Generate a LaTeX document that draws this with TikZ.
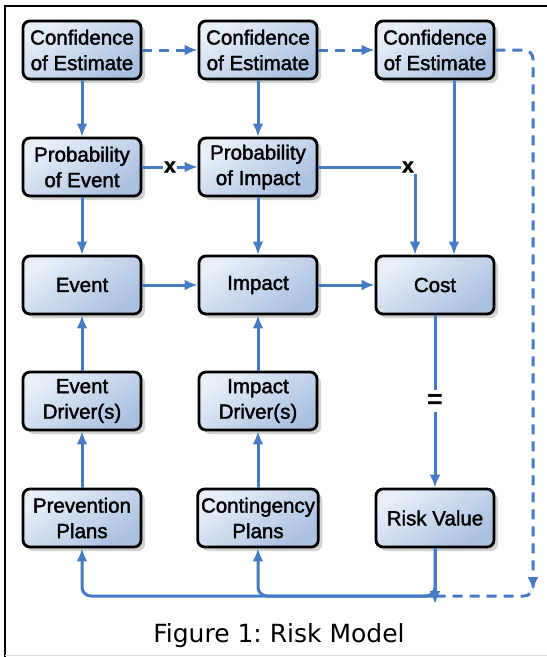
\documentclass[tikz,border=0pt]{standalone}
\usepackage{fontspec}
\usepackage{xcolor}
\usetikzlibrary{shadows,arrows.meta}
\setmainfont{Liberation Sans}
\newfontfamily\boxfont[FakeBold=1.8]{Liberation Sans}
\newfontfamily\capfont{DejaVu Sans}

\definecolor{flowblue}{RGB}{70,122,198}
\definecolor{boxlight}{RGB}{232,239,249}
\definecolor{boxdark}{RGB}{170,192,224}

\begin{document}
\begin{tikzpicture}[x=1pt, y=-1pt,
  riskbox/.style={draw=black, line width=2.8pt, rounded corners=7pt,
    minimum width=118pt, minimum height=58pt, align=center,
    top color=boxlight, bottom color=boxdark, shading angle=35,
    font=\boxfont\fontsize{20.5}{25.5}\selectfont,
    drop shadow={shadow xshift=4pt, shadow yshift=-4pt, opacity=0.18, fill=black}},
  flow/.style={draw=flowblue, line width=3pt, -{Latex[length=13pt,width=11pt]}},
  plainflow/.style={draw=flowblue, line width=3pt},
  opsign/.style={font=\boxfont\bfseries\fontsize{21}{22}\selectfont, inner sep=1pt}]
  \useasboundingbox (0,0) rectangle (547,657);

  % Frame round the figure
  \draw[line width=2pt] (5,657) -- (5,6) -- (547,6);
  \draw[gray!25, line width=1pt] (5,655) -- (547,655);

  % Boxes
  \node[riskbox] (conf1) at (82,50) {Confidence\\of Estimate};
  \node[riskbox] (conf2) at (258,50) {Confidence\\of Estimate};
  \node[riskbox] (conf3) at (435,50) {Confidence\\of Estimate};
  \node[riskbox] (probev) at (82,167) {Probability\\of Event};
  \node[riskbox] (probim) at (258,167) {Probability\\of Impact};
  \node[riskbox] (event) at (82,285) {Event};
  \node[riskbox] (impact) at (258,285) {Impact};
  \node[riskbox] (cost) at (435,285) {Cost};
  \node[riskbox] (evdrv) at (82,401) {Event\\Driver(s)};
  \node[riskbox] (imdrv) at (258,401) {Impact\\Driver(s)};
  \node[riskbox] (prev) at (82,518) {Prevention\\Plans};
  \node[riskbox] (cont) at (258,518) {Contingency\\Plans};
  \node[riskbox] (risk) at (435,518) {Risk Value};

  % Operators
  \node[opsign] (xa) at (170,167) {x};
  \node[opsign] (xb) at (408,167) {x};
  \node[opsign, font=\bfseries\fontsize{27}{28}\selectfont, inner sep=4pt] (eq) at (435,401) {=};

  % Corners of the loop at the bottom
  \coordinate (loopR) at (435,596);
  \coordinate (loopL) at (82,596);
  \coordinate (loopD) at (533,596);

  % Dashed links between the estimates
  \draw[flow, dash pattern=on 10pt off 7pt] (conf1) -- (conf2);
  \draw[flow, dash pattern=on 10pt off 7pt] (conf2) -- (conf3);
  \draw[plainflow, dash pattern=on 10pt off 7pt, rounded corners=9pt]
    (conf3.east) -- (conf3.east -| loopD) -- (loopD) -- (loopR);
  \draw[flow] ([yshift=18]loopD) -- ([yshift=6]loopD);

  % Top rows
  \draw[flow] (conf1) -- (probev);
  \draw[flow] (conf2) -- (probim);
  \draw[flow] ([xshift=19]conf3.south) -- ([xshift=19]cost.north);
  \draw[plainflow] (probev) -- (xa);
  \draw[flow] (xa) -- (probim);
  \draw[plainflow] (probim) -- (xb);
  \draw[flow] (xb.south east) -- (xb.south east |- cost.north);
  \draw[flow] (probev) -- (event);
  \draw[flow] (probim) -- (impact);

  % Middle row
  \draw[flow] (event) -- (impact);
  \draw[flow] (impact) -- (cost);
  \draw[plainflow] (cost) -- (eq);
  \draw[flow] (eq) -- (risk);

  % Drivers and plans
  \draw[flow] (evdrv) -- (event);
  \draw[flow] (imdrv) -- (impact);
  \draw[flow] (prev) -- (evdrv);
  \draw[flow] (cont) -- (imdrv);

  % Feedback to the plans
  \draw[flow] (risk) -- ([yshift=-8]loopR);
  \draw[flow, rounded corners=9pt] (risk.south) -- (loopR) -- (loopL) -- (prev.south);
  \draw[flow, rounded corners=9pt] (loopR) -- (cont.south |- loopR) -- (cont.south);

  % Caption
  \node[font=\capfont\fontsize{25}{30}\selectfont] (caption) at (279,636) {Figure 1:\ Risk Model};
\end{tikzpicture}
\end{document}
